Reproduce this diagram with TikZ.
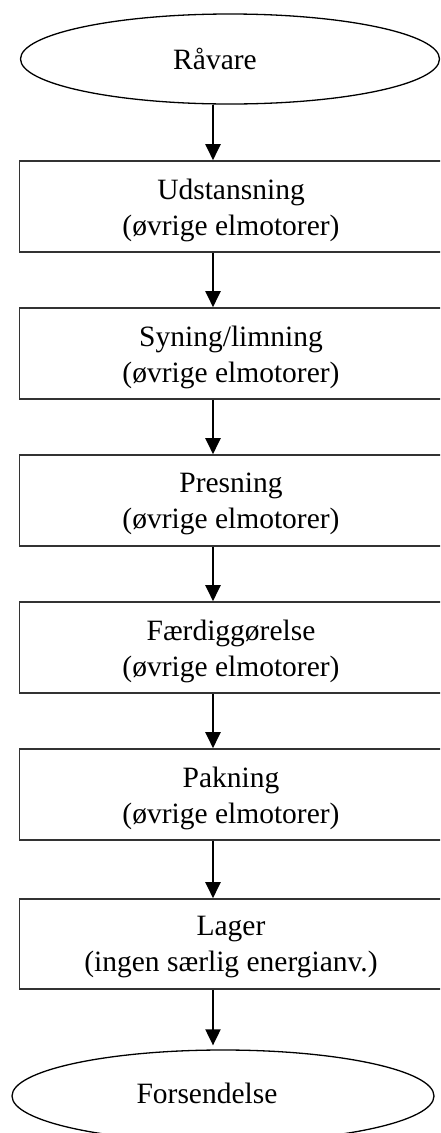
\documentclass[tikz,border=0pt]{standalone}
\usepackage{fontspec}
\setmainfont{Liberation Serif}
\usetikzlibrary{shapes.geometric,arrows.meta}
\begin{document}
\begin{tikzpicture}[x=1pt,y=-1pt,
  oval/.style={draw=black,line width=1.3pt,ellipse,inner sep=0pt},
  stepbox/.style={draw=black!80,line width=1.6pt,rectangle,inner sep=0pt,
    minimum width=423pt,minimum height=91pt},
  txt/.style={align=center,inner sep=0pt,font=\fontsize{29.5}{36}\selectfont},
  flow/.style={line width=2pt,-{Triangle[width=15pt,length=16pt]}}]
\useasboundingbox (0,0) rectangle (440,1133);
\clip (0,0) rectangle (440,1133);
\fill[white] (0,0) rectangle (440,1133);
% axis that all connectors follow
\coordinate (ax) at (213,0);
% start and end ovals
\node[oval,minimum width=419pt,minimum height=90pt] (raavare) at (230,59) {};
\node[txt,anchor=base] (traavare) at (215,69) {Råvare};
\node[oval,minimum width=422pt,minimum height=92pt] (forsend) at (223,1096) {};
\node[txt,anchor=base] (tforsend) at (207,1103) {Forsendelse};
% process steps
\node[stepbox] (s1) at (231,206.5) {};
\node[txt] at ([yshift=-3.5pt]s1.center) {Udstansning\\(øvrige elmotorer)};
\node[stepbox] (s2) at (231,353.5) {};
\node[txt] at ([yshift=-3.5pt]s2.center) {Syning/limning\\(øvrige elmotorer)};
\node[stepbox] (s3) at (231,500.5) {};
\node[txt] at ([yshift=-3.5pt]s3.center) {Presning\\(øvrige elmotorer)};
\node[stepbox] (s4) at (231,647.5) {};
\node[txt] at ([yshift=-3.5pt]s4.center) {Færdiggørelse\\(øvrige elmotorer)};
\node[stepbox] (s5) at (231,794.5) {};
\node[txt] at ([yshift=-3.5pt]s5.center) {Pakning\\(øvrige elmotorer)};
\node[stepbox,minimum height=90pt] (s6) at (231,944) {};
\node[txt] at ([yshift=-3.5pt]s6.center) {Lager\\(ingen særlig energianv.)};
% connectors
\draw[flow] (raavare.south -| ax) -- (s1.north -| ax);
\draw[flow] (s1.south -| ax) -- (s2.north -| ax);
\draw[flow] (s2.south -| ax) -- (s3.north -| ax);
\draw[flow] (s3.south -| ax) -- (s4.north -| ax);
\draw[flow] (s4.south -| ax) -- (s5.north -| ax);
\draw[flow] (s5.south -| ax) -- (s6.north -| ax);
\draw[flow,shorten >=4pt] (s6.south -| ax) -- (forsend.north -| ax);
\end{tikzpicture}
\end{document}
